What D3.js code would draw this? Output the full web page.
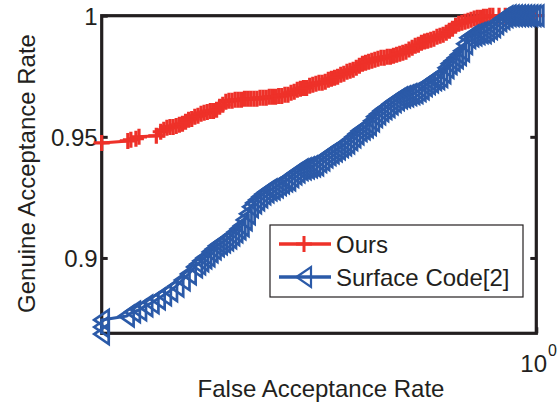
<!DOCTYPE html>
<html>
<head>
<meta charset="utf-8">
<script src="https://cdn.jsdelivr.net/npm/d3@7"></script>
<style>
  html, body { margin: 0; padding: 0; background: #fff; }
  svg { display: block; }
  text { font-family: "Liberation Sans", Arial, Helvetica, sans-serif; fill: #231f20; }
</style>
</head>
<body>
<svg id="chart" width="557" height="406"></svg>
<script>
// ---------------- data ----------------
const seriesNames = ["Ours", "Surface Code[2]"];

const farOurs = [
  0.1995, 0.2198, 0.2223, 0.2265, 0.2291, 0.2443,
  0.2483, 0.2512, 0.2541, 0.2570, 0.2600, 0.2630, 0.2661, 0.2692, 0.2723, 0.2754,
  0.2786, 0.2818, 0.2851, 0.2884, 0.2917, 0.2951, 0.2985, 0.3020, 0.3055, 0.3090,
  0.3126, 0.3162, 0.3199, 0.3236, 0.3273, 0.3311, 0.3350, 0.3388, 0.3428, 0.3467,
  0.3508, 0.3548, 0.3589, 0.3631, 0.3673, 0.3715, 0.3758, 0.3802, 0.3846, 0.3890,
  0.3936, 0.3981, 0.4027, 0.4074, 0.4121, 0.4169, 0.4217, 0.4266, 0.4315, 0.4365,
  0.4416, 0.4467, 0.4519, 0.4571, 0.4624, 0.4677, 0.4732, 0.4786, 0.4842, 0.4898,
  0.4955, 0.5012, 0.5070, 0.5129, 0.5188, 0.5248, 0.5309, 0.5370, 0.5433, 0.5495,
  0.5559, 0.5623, 0.5689, 0.5754, 0.5821, 0.5888, 0.5957, 0.6026, 0.6095, 0.6166,
  0.6237, 0.6310, 0.6383, 0.6457, 0.6531, 0.6607, 0.6683, 0.6761, 0.6839, 0.6918,
  0.6998, 0.7079, 0.7161, 0.7244, 0.7328, 0.7413, 0.7499, 0.7586, 0.7674, 0.7762,
  0.7852, 0.7943, 0.8035, 0.8128, 0.8222, 0.8318, 0.8414, 0.8511, 0.8710, 0.8913,
  0.9120, 0.9333, 0.9550, 0.9772, 1.0000
];
const garOurs = [
  0.9475, 0.9483, 0.9488, 0.9492, 0.9500, 0.9504,
  0.9521, 0.9529, 0.9537, 0.9541, 0.9541, 0.9545, 0.9550, 0.9554, 0.9562, 0.9570,
  0.9574, 0.9583, 0.9587, 0.9595, 0.9599, 0.9603, 0.9607, 0.9607, 0.9612, 0.9624,
  0.9632, 0.9645, 0.9649, 0.9649, 0.9653, 0.9653, 0.9653, 0.9657, 0.9657, 0.9657,
  0.9657, 0.9657, 0.9661, 0.9661, 0.9661, 0.9665, 0.9665, 0.9665, 0.9669, 0.9669,
  0.9674, 0.9674, 0.9682, 0.9686, 0.9694, 0.9698, 0.9702, 0.9702, 0.9711, 0.9715,
  0.9719, 0.9723, 0.9723, 0.9727, 0.9736, 0.9740, 0.9744, 0.9748, 0.9756, 0.9760,
  0.9769, 0.9773, 0.9777, 0.9785, 0.9793, 0.9802, 0.9806, 0.9810, 0.9814, 0.9818,
  0.9822, 0.9826, 0.9826, 0.9831, 0.9831, 0.9835, 0.9839, 0.9843, 0.9847, 0.9851,
  0.9860, 0.9868, 0.9876, 0.9880, 0.9888, 0.9893, 0.9897, 0.9901, 0.9905, 0.9913,
  0.9917, 0.9921, 0.9930, 0.9938, 0.9946, 0.9959, 0.9967, 0.9971, 0.9975, 0.9979,
  0.9983, 0.9988, 0.9992, 0.9992, 0.9996, 0.9996, 1.0000, 1.0000, 1.0000, 1.0000,
  1.0000, 1.0000, 1.0000, 1.0000, 1.0000
];

const farSurface = [
  0.1995, 0.1995, 0.1995, 0.2188, 0.2239, 0.2291, 0.2344, 0.2399, 0.2455, 0.2512,
  0.2570, 0.2630, 0.2692, 0.2754, 0.2818, 0.2851, 0.2884, 0.2917, 0.2951, 0.2985,
  0.3020, 0.3055, 0.3090, 0.3126, 0.3162, 0.3199, 0.3236, 0.3273, 0.3311, 0.3350,
  0.3388, 0.3428, 0.3467, 0.3508, 0.3548, 0.3589, 0.3631, 0.3673, 0.3715, 0.3758,
  0.3802, 0.3846, 0.3890, 0.3936, 0.3981, 0.4027, 0.4074, 0.4121, 0.4169, 0.4217,
  0.4266, 0.4315, 0.4365, 0.4416, 0.4467, 0.4519, 0.4571, 0.4624, 0.4677, 0.4732,
  0.4786, 0.4842, 0.4898, 0.4955, 0.5012, 0.5070, 0.5129, 0.5188, 0.5248, 0.5309,
  0.5370, 0.5433, 0.5495, 0.5559, 0.5623, 0.5689, 0.5754, 0.5821, 0.5888, 0.5957,
  0.6026, 0.6095, 0.6166, 0.6237, 0.6310, 0.6383, 0.6457, 0.6531, 0.6607, 0.6683,
  0.6761, 0.6839, 0.6918, 0.6998, 0.7079, 0.7161, 0.7244, 0.7328, 0.7413, 0.7499,
  0.7586, 0.7674, 0.7762, 0.7852, 0.7943, 0.8035, 0.8128, 0.8222, 0.8318, 0.8414,
  0.8511, 0.8610, 0.8710, 0.8810, 0.8913, 0.9016, 0.9120, 0.9226, 0.9333, 0.9441,
  0.9550, 0.9661, 0.9772, 0.9886, 1.0000
];
const garSurface = [
  0.8686, 0.8715, 0.8744, 0.8760, 0.8777, 0.8785, 0.8802, 0.8814, 0.8831, 0.8847,
  0.8864, 0.8884, 0.8909, 0.8934, 0.8963, 0.8975, 0.8988, 0.9000, 0.9008, 0.9025,
  0.9037, 0.9050, 0.9058, 0.9066, 0.9074, 0.9083, 0.9095, 0.9107, 0.9120, 0.9132,
  0.9157, 0.9182, 0.9211, 0.9227, 0.9240, 0.9252, 0.9264, 0.9273, 0.9281, 0.9285,
  0.9293, 0.9302, 0.9310, 0.9318, 0.9322, 0.9335, 0.9347, 0.9355, 0.9364, 0.9368,
  0.9372, 0.9376, 0.9380, 0.9384, 0.9397, 0.9405, 0.9417, 0.9426, 0.9434, 0.9442,
  0.9450, 0.9459, 0.9467, 0.9475, 0.9488, 0.9500, 0.9512, 0.9525, 0.9533, 0.9541,
  0.9550, 0.9566, 0.9583, 0.9595, 0.9607, 0.9616, 0.9624, 0.9636, 0.9645, 0.9653,
  0.9661, 0.9665, 0.9669, 0.9674, 0.9678, 0.9682, 0.9690, 0.9698, 0.9711, 0.9719,
  0.9727, 0.9736, 0.9740, 0.9748, 0.9764, 0.9785, 0.9802, 0.9814, 0.9826, 0.9839,
  0.9855, 0.9884, 0.9909, 0.9917, 0.9921, 0.9926, 0.9930, 0.9930, 0.9938, 0.9946,
  0.9955, 0.9967, 0.9979, 0.9988, 0.9996, 1.0000, 1.0000, 1.0000, 1.0000, 1.0000,
  1.0000, 1.0000, 1.0000, 1.0000, 1.0000
];

const yTicks = [0.9, 0.95, 1];
const yTickLabels = ["0.9", "0.95", "1"];
const xTicks = [1];
const xTickBase = ["10"];
const xTickExp = ["0"];
const xDomain = [0.1995, 1];
const yDomain = [0.8689, 1];
const xTitle = "False Acceptance Rate";
const yTitle = "Genuine Acceptance Rate";

// ---------------- layout / style ----------------
const W = 557, H = 406;
const plot = { left: 101.7, right: 536.3, top: 15.7, bottom: 333.3 };
const ink = "#231f20";
const red = "#ee3129";
const blue = "#2b5aa8";
const fontSize = 24;

const svg = d3.select("#chart");

const x = d3.scaleLog().domain(xDomain).range([plot.left, plot.right]);
const y = d3.scaleLinear().domain(yDomain).range([plot.bottom, plot.top]);

// axes box
svg.append("rect")
  .attr("x", plot.left).attr("y", plot.top)
  .attr("width", plot.right - plot.left).attr("height", plot.bottom - plot.top)
  .attr("fill", "none").attr("stroke", ink).attr("stroke-width", 3.2);

// left axis (inward ticks + labels)
const gLeft = svg.append("g").attr("transform", `translate(${plot.left},0)`)
  .call(d3.axisLeft(y).tickValues(yTicks)
    .tickFormat((d, i) => yTickLabels[i]).tickSize(-6).tickPadding(4));
gLeft.select(".domain").remove();
gLeft.selectAll(".tick line").attr("stroke", ink).attr("stroke-width", 3);
gLeft.selectAll(".tick text")
  .attr("font-size", fontSize).attr("fill", ink).attr("dy", "0.36em")
  .style("font-family", '"Liberation Sans", Arial, sans-serif');

// right axis (inward ticks, no labels)
const gRight = svg.append("g").attr("transform", `translate(${plot.right},0)`)
  .call(d3.axisRight(y).tickValues(yTicks).tickFormat("").tickSize(-6));
gRight.select(".domain").remove();
gRight.selectAll(".tick line").attr("stroke", ink).attr("stroke-width", 3);

// bottom axis
const gBottom = svg.append("g").attr("transform", `translate(0,${plot.bottom})`)
  .call(d3.axisBottom(x).tickValues(xTicks).tickFormat("").tickSize(-6));
gBottom.select(".domain").remove();
gBottom.selectAll(".tick line").attr("stroke", ink).attr("stroke-width", 3);
xTicks.forEach((v, i) => {
  const t = svg.append("text")
    .attr("x", x(v) - 16).attr("y", 372)
    .attr("font-size", fontSize);
  t.append("tspan").text(xTickBase[i]);
  t.append("tspan").attr("font-size", 16).attr("dy", -16).attr("dx", 1).text(xTickExp[i]);
});

// axis titles
svg.append("text")
  .attr("x", (plot.left + plot.right) / 2 + 2).attr("y", 397)
  .attr("text-anchor", "middle").attr("font-size", fontSize)
  .text(xTitle);
svg.append("text")
  .attr("transform", `translate(35,${(plot.top + plot.bottom) / 2 - 1}) rotate(-90)`)
  .attr("text-anchor", "middle").attr("font-size", fontSize)
  .text(yTitle);

// series
const ours = farOurs.map((f, i) => ({ f, g: garOurs[i] }));
const surf = farSurface.map((f, i) => ({ f, g: garSurface[i] }));
const line = d3.line().x(d => x(d.f)).y(d => y(d.g));

const plusPath = "M-8,0H8M0,-8V8";
const triPath = "M-7.5,0L7,-10L7,10Z";

svg.append("path").datum(ours)
  .attr("d", line).attr("fill", "none").attr("stroke", red).attr("stroke-width", 3);
svg.append("g").selectAll("path").data(ours).join("path")
  .attr("transform", d => `translate(${x(d.f)},${y(d.g)})`)
  .attr("d", plusPath).attr("fill", "none").attr("stroke", red).attr("stroke-width", 3.2);

svg.append("path").datum(surf)
  .attr("d", line).attr("fill", "none").attr("stroke", blue).attr("stroke-width", 3);
svg.append("g").selectAll("path").data(surf).join("path")
  .attr("transform", d => `translate(${x(d.f)},${y(d.g)})`)
  .attr("d", triPath).attr("fill", "none").attr("stroke", blue).attr("stroke-width", 2.7)
  .attr("stroke-linejoin", "miter");

// legend
const leg = { x: 270, y: 225, w: 253, h: 72 };
svg.append("rect")
  .attr("x", leg.x).attr("y", leg.y).attr("width", leg.w).attr("height", leg.h)
  .attr("fill", "#fff").attr("stroke", ink).attr("stroke-width", 1.2);
const legendRows = [
  { name: seriesNames[0], color: red, marker: plusPath, sw: 3, cy: 244 },
  { name: seriesNames[1], color: blue, marker: triPath, sw: 2.2, cy: 277 }
];
legendRows.forEach(r => {
  svg.append("line").attr("x1", 279).attr("x2", 331).attr("y1", r.cy).attr("y2", r.cy)
    .attr("stroke", r.color).attr("stroke-width", 3.5);
  svg.append("path").attr("transform", `translate(304,${r.cy})`)
    .attr("d", r.marker).attr("fill", "none").attr("stroke", r.color).attr("stroke-width", r.sw);
  svg.append("text").attr("x", 336).attr("y", r.cy + 8.6)
    .attr("font-size", fontSize).text(r.name);
});
</script>
</body>
</html>
